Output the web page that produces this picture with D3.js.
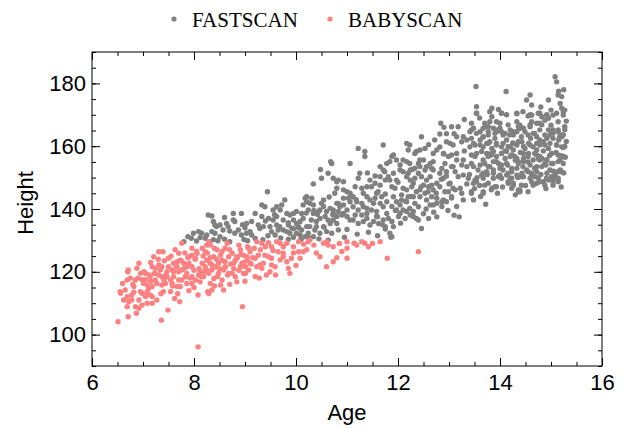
<!DOCTYPE html>
<html><head><meta charset="utf-8">
<script src="https://cdn.jsdelivr.net/npm/d3@7"></script>
<style>html,body{margin:0;padding:0;background:#fff;}svg{display:block;}</style>
</head><body><svg id="c" width="624" height="429"></svg>
<script>
const seriesNames = ["FASTSCAN", "BABYSCAN"];
const xTicks = [6, 8, 10, 12, 14, 16];
const yTicks = [100, 120, 140, 160, 180];

const fastscan = [
[9.44,145.5],[10.34,148.0],[10.80,148.7],[9.78,142.9],[9.72,141.3],[9.33,141.3],[9.39,140.7],[9.62,140.7],[9.55,139.7],[8.28,138.1],[8.35,137.8],[8.77,138.6],[8.93,138.6],[8.77,136.5],[8.80,136.0],[8.64,135.4],[8.67,134.4],[8.51,134.9],[8.44,134.4],[8.41,134.9],[8.38,136.0],[7.99,132.3],[8.09,132.8],[8.15,132.3],[8.25,131.7],[8.35,132.8],[8.41,132.3],[7.95,130.7],[8.22,130.7],[8.38,130.2],[8.51,131.2],[8.57,133.3],[8.80,132.3],[8.87,133.3],[8.93,131.7],[9.03,132.3],[9.10,132.8],[9.13,131.7],[9.26,134.9],[9.29,133.8],[9.36,134.4],[9.33,137.6],[9.46,137.0],[9.49,134.4],[9.55,136.5],[9.62,134.9],[9.65,133.3],[9.68,134.4],[9.75,133.3],[9.82,132.8],[9.88,132.3],[9.52,132.8],[9.59,131.7],[9.88,138.1],[9.95,138.6],[10.01,139.2],[10.01,135.4],[10.08,136.0],[10.14,137.0],[10.01,132.3],[10.08,131.7],[10.18,131.2],[10.14,141.3],[10.21,142.3],[10.27,141.8],[10.18,143.4],[10.21,143.9],[10.34,141.3],[10.30,136.5],[10.40,136.0],[10.47,137.0],[10.27,134.4],[10.37,133.3],[10.34,131.2],[10.50,141.8],[10.54,142.9],[10.47,139.7],[10.60,139.2],[10.67,140.2],[10.57,137.6],[10.67,135.4],[10.73,136.5],[10.60,132.8],[10.70,132.3],[10.76,145.0],[10.80,146.6],[10.83,139.2],[10.83,133.3],[10.63,130.1],
[7.80,129.6],[7.88,131.2],[8.05,129.8],[8.12,130.9],[8.30,129.4],[8.47,129.9],[8.60,130.4],[8.70,129.6],[8.98,130.3],[9.05,129.9],[9.20,130.6],[9.35,130.2],[9.45,131.5],[9.70,130.8],[9.85,130.4],[9.95,131.0],[10.10,130.4],[10.25,130.8],[10.45,130.5],
[9.03,135.4],[9.13,136.0],[9.20,138.6],[8.60,137.3],[8.95,135.0],[9.00,134.0],[8.70,133.0],[9.40,136.2],[9.58,138.2],[9.85,135.6],[9.92,133.9],[10.05,134.0],[10.20,138.7],[10.35,139.5],[10.42,138.3],[10.55,134.2],[10.65,143.8],[10.72,138.2],
[9.62,137.6],[9.75,136.5],[9.85,134.9],[9.95,133.8],[10.05,134.4],[10.11,133.3],[10.21,134.4],[10.24,132.3],[10.40,134.4],[10.47,132.3],[10.54,134.4],[10.63,136.5],[10.73,138.6],[10.80,135.4],[10.83,141.8],[10.54,140.8],[10.44,139.2],[10.34,138.6],[10.31,143.4],[10.24,139.7],[10.11,138.6],[9.95,136.5],[9.82,138.6],[9.69,139.7],
[10.50,149.8],[10.48,152.6],[10.68,155.1],[10.70,154.5],[10.63,151.4],[10.73,149.8],[10.83,149.2],[10.93,148.7],[11.06,154.5],[11.22,159.3],[11.35,158.3],[11.35,156.7],[11.25,151.4],[11.22,149.8],[11.16,147.1],[11.29,146.6],[11.32,145.0],[11.45,149.2],[11.48,147.1],[11.39,143.9],[11.45,142.9],[11.52,141.8],[11.32,140.7],[11.22,139.7],[11.12,140.7],[11.06,142.3],[10.93,141.3],[11.00,139.7],[10.93,138.6],[10.86,140.7],[10.90,138.1],[11.29,138.1],[11.39,137.0],[11.48,139.7],[11.58,139.2],[11.12,136.5],[11.22,135.4],[11.32,136.0],[11.45,134.9],[11.52,136.0],[11.65,141.8],[11.71,140.7],[11.68,143.9],[11.61,145.5],[11.65,147.6],[11.65,153.5],[11.71,152.4],[11.74,151.9],[11.78,154.5],[11.84,155.1],[11.71,160.4],[11.88,156.7],[11.91,157.2],[11.81,150.3],[11.84,149.2],[11.88,147.1],[11.94,146.6],[11.91,143.9],[11.97,142.3],[12.04,141.3],[11.78,138.6],[11.81,137.0],[11.88,136.0],[11.91,134.4],[11.84,132.3],[11.88,131.2],[12.04,138.6],[12.10,139.7],[12.17,139.2],[12.23,140.2],[12.17,160.9],[12.23,160.4],[12.20,158.8],[12.33,157.7],[12.36,158.3],[12.43,158.8],[12.10,155.6],[12.17,155.1],[12.23,154.5],[12.04,152.4],[12.10,151.9],[12.20,151.4],[12.24,149.2],[12.30,148.2],[12.33,149.8],[12.40,154.5],[12.43,153.5],[12.50,155.6],[12.40,151.4],[12.46,150.3],[12.53,152.4],[12.10,146.6],[12.17,146.1],[12.27,147.1],[12.07,144.5],[12.20,143.9],[12.36,145.5],[12.43,143.9],[12.53,145.0],[12.33,141.8],[12.40,140.7],[12.30,137.6],[12.36,137.0],[12.40,136.5],[12.46,133.8],[12.56,142.9],[12.63,141.3],[12.59,145.5],[12.66,147.6],[12.56,149.2],[12.63,150.3],[12.63,154.5],[12.66,152.9],[12.69,155.1],[12.69,157.7],[12.76,158.8],[12.82,159.8],[12.72,162.0],[12.82,163.9],[12.46,163.0],[12.53,159.3],[12.82,151.4],[12.86,152.9],[12.92,154.5],[12.76,148.2],[12.82,147.1],[12.92,145.5],[12.95,161.4],[13.02,160.9],[13.08,160.4],[12.99,156.7],[13.05,157.2],[13.15,155.6],[13.05,153.5],[13.12,151.9],[13.18,150.3],[12.76,143.4],[12.86,142.3],[12.99,145.5],[13.08,146.6],[13.15,140.8],[12.69,141.3],[12.89,142.9],
[11.00,145.5],[11.10,144.0],[11.18,143.0],[11.40,151.5],[11.55,150.5],[11.58,145.0],[11.60,137.5],[11.70,135.0],[11.75,144.8],[11.95,139.5],[12.00,148.5],[12.05,135.5],[12.15,142.5],[12.25,144.0],[12.28,152.6],[12.45,147.0],[12.50,138.5],[12.55,140.0],[12.60,137.0],[12.70,139.0],[12.75,145.0],[12.85,149.5],[12.90,157.5],[12.95,150.5],[13.00,148.0],[13.05,143.5],[13.10,138.0],[13.20,137.5],[12.98,139.5],[11.60,131.5],[11.20,132.0],[11.00,133.5],[10.95,131.0],[11.42,132.6],[11.75,133.6],[11.86,131.0],[12.76,137.5],
[10.93,146.1],[11.06,145.0],[11.12,143.9],[11.03,143.4],[11.19,142.3],[11.29,141.8],[11.39,140.2],[11.00,137.6],[11.06,136.5],[11.16,138.1],[11.39,138.6],[11.58,137.6],[11.62,135.4],[11.71,136.5],[11.75,134.4],[11.55,143.4],[11.78,142.3],[11.88,140.8],[11.97,139.7],[12.01,137.6],[12.14,137.0],[12.24,138.1],[12.30,139.2],[12.07,142.9],[12.17,142.3],[12.30,143.9],[12.43,146.1],[12.50,147.6],[12.60,147.1],[12.69,146.1],[12.66,143.9],[12.76,141.8],[12.86,140.8],[12.95,142.3],[13.05,143.9],[13.12,146.1],[13.02,148.2],[12.89,149.8],[12.95,151.9],[13.08,153.5],[13.15,157.7],[12.89,157.7],[12.69,152.4],[12.56,153.5],[12.43,155.6],[12.33,153.0],[12.24,152.4],[12.17,150.3],[11.97,149.2],[11.91,151.4],[12.04,154.0],[11.97,155.6],[11.75,149.2],[11.65,150.3],[11.55,148.2],[11.39,147.1],[10.93,143.4],[10.80,141.8],[10.73,139.7],[10.80,137.6],
[15.08,182.1],[15.11,180.5],[13.53,179.0],[14.12,177.4],[14.59,176.3],[14.52,174.7],[15.14,176.3],[15.21,175.8],[14.95,174.7],[14.62,173.1],[14.62,169.9],[15.18,173.6],[15.21,172.1],[13.54,172.6],[13.54,170.5],[13.84,172.1],[13.97,171.7],[14.03,170.5],[14.13,170.0],[14.33,170.5],[14.59,170.0],[14.75,170.5],[14.82,169.4],[14.92,170.0],[15.27,171.5],[15.24,169.9],[15.11,170.5],[15.14,167.8],[13.84,169.4],[13.80,167.8],[13.44,167.3],[13.48,165.7],[13.70,167.3],[13.74,166.2],[13.93,167.8],[14.00,167.3],[14.33,167.8],[14.39,166.7],[14.62,167.8],[14.59,166.2],[14.78,167.3],[14.88,168.3],[14.95,168.9],[15.00,166.7],[15.04,165.2],[15.27,166.2],[15.24,163.6],[12.84,167.3],[13.05,166.2],[13.18,166.2],[13.41,164.6],[13.44,162.5],[13.61,164.6],[13.67,163.0],[13.77,163.6],[13.93,164.6],[14.00,165.7],[14.10,164.1],[14.20,165.2],[14.26,163.6],[14.39,165.7],[14.49,164.6],[14.65,164.1],[14.72,163.0],[14.78,162.0],[14.92,162.5],[14.98,163.6],[15.04,162.5],[15.14,164.6],[15.21,163.0],[13.28,163.0],[13.35,162.0],[13.25,161.4],[13.41,159.8],[13.51,160.4],[13.61,162.0],[13.67,159.8],[13.77,160.9],[13.84,159.3],[13.93,160.9],[14.03,159.8],[14.13,162.0],[14.20,159.8],[14.26,158.8],[14.33,160.4],[14.43,161.4],[14.49,159.3],[14.56,160.9],[14.65,159.8],[14.72,158.8],[14.78,160.4],[14.88,160.4],[14.95,159.3],[15.01,157.7],[15.11,160.4],[15.21,159.8],[15.24,159.6],[13.44,157.2],[13.54,157.7],[13.67,155.6],[13.77,156.7],[13.87,158.3],[13.93,155.1],[14.03,157.7],[14.10,156.1],[14.20,156.7],[14.29,156.7],[14.36,155.1],[14.46,156.1],[14.56,157.7],[14.65,155.6],[14.72,157.2],[14.82,156.1],[14.92,155.6],[15.01,154.5],[15.18,155.6],[15.24,154.5],[13.28,155.6],[13.35,153.5],[13.25,154.0],[13.48,153.5],[13.57,152.4],[13.67,151.4],[13.77,153.5],[13.87,152.4],[13.97,154.5],[14.06,152.4],[14.13,150.8],[14.23,151.9],[14.33,153.0],[14.43,151.4],[14.52,152.4],[14.62,150.8],[14.72,151.9],[14.82,153.5],[14.92,151.4],[14.98,152.4],[15.08,150.8],[15.18,152.4],[15.14,149.8],[13.28,150.8],[13.38,149.8],[13.48,148.2],[13.67,149.8],[13.77,148.2],[13.87,149.8],[13.97,150.3],[14.03,149.8],[14.20,149.8],[14.26,148.2],[14.23,146.6],[14.16,148.2],[14.36,145.5],[14.39,146.0],[14.46,150.3],[14.59,149.8],[14.69,150.3],[14.78,148.7],[14.95,149.2],[15.04,149.8],[15.14,149.2],[14.85,148.7],[14.65,147.6],[14.72,148.2],[15.04,147.6],[13.44,145.0],[13.67,145.0],[13.48,142.9],[13.84,146.6],[13.90,147.1],[13.25,145.0],[13.22,146.6],[13.28,142.9],
[13.30,158.5],[13.40,151.0],[13.55,150.0],[13.60,147.5],[13.75,151.0],[13.80,157.5],[13.90,162.5],[14.00,153.0],[14.05,147.0],[14.10,158.5],[14.15,154.0],[14.25,161.0],[14.30,155.5],[14.35,150.0],[14.40,158.0],[14.45,153.5],[14.50,147.5],[14.55,155.0],[14.60,162.5],[14.68,153.0],[14.75,156.0],[14.80,151.0],[14.85,158.5],[14.90,154.0],[14.97,157.0],[15.05,152.0],[15.10,158.0],[15.15,162.0],[15.20,157.0],[15.25,151.5],[15.28,156.5],[15.30,161.5],[13.35,148.0],[13.50,146.5],[13.62,144.0],[13.72,141.5],[13.95,145.0],[14.30,144.5],[14.55,145.5],[14.90,146.5],[15.20,147.0],[13.10,164.0],[13.30,168.5],[13.60,169.0],[14.45,171.0],[14.80,172.5],[15.00,171.5],[15.25,178.0],[15.30,168.0],[15.15,177.5],[12.95,164.0],[13.15,163.0],[12.60,160.5],[12.90,166.0],
[13.54,170.5],[13.80,171.0],[14.03,170.5],[14.33,170.3],[14.55,169.6],[14.62,169.9],[14.78,170.5],[14.91,169.9],[15.04,169.9],[15.24,171.0],
[13.44,165.2],[13.67,165.7],[13.77,166.2],[13.87,165.7],[13.93,165.2],[14.03,164.6],[14.16,166.8],[14.26,164.6],[14.36,166.2],[14.46,165.7],[14.59,166.8],[14.72,167.3],[14.82,166.8],[14.95,165.2],[15.01,164.6],[15.14,165.2],[15.27,165.2],
[13.54,164.1],[13.67,162.9],[13.77,164.6],[13.90,164.1],[14.06,163.6],[14.19,163.6],[14.33,164.6],[14.42,163.0],[14.55,163.6],[14.68,164.1],[14.78,165.2],[14.88,163.6],[15.04,164.1],[15.17,163.0],[15.21,163.6],
[13.48,160.9],[13.61,160.4],[13.74,160.9],[13.80,161.4],[13.93,160.4],[14.06,160.9],[14.16,159.9],[14.26,160.9],[14.36,161.4],[14.46,159.9],[14.59,160.4],[14.72,160.9],[14.85,161.4],[14.98,160.9],[15.11,160.4],[15.27,159.9],
[13.51,156.7],[13.64,158.3],[13.74,157.7],[13.83,157.2],[13.93,156.7],[14.03,157.7],[14.13,158.3],[14.23,157.2],[14.33,156.1],[14.46,157.7],[14.55,156.7],[14.68,157.7],[14.78,156.7],[14.91,155.6],[15.01,157.7],[15.14,157.2],[15.24,156.7],
[13.44,154.5],[13.61,154.0],[13.70,154.5],[13.80,153.5],[13.87,155.1],[14.03,154.0],[14.13,154.5],[14.23,152.9],[14.36,154.5],[14.46,155.1],[14.59,154.0],[14.72,153.5],[14.78,155.6],[14.88,154.5],[15.04,154.5],[15.14,155.1],
[13.51,149.2],[13.64,150.8],[13.74,151.9],[13.87,151.4],[14.00,150.8],[14.16,151.4],[14.23,149.8],[14.33,150.8],[14.42,150.3],[14.55,151.9],[14.62,151.4],[14.75,149.8],[14.91,149.8],[15.01,150.3],[15.14,151.9],[15.21,151.9],
[13.54,148.7],[13.70,147.6],[13.83,146.1],[13.93,147.1],[14.16,148.7],[14.26,147.6],[14.42,147.6],[14.62,148.7],[14.88,147.6],[15.04,148.7],[15.14,148.7],[13.44,145.5],[13.67,145.5],[14.36,146.1],[14.39,145.5]
];

const babyscan = [
[6.51,104.1],[6.71,105.7],[6.87,106.8],[7.36,104.6],[7.49,107.8],[8.08,96.1],[8.95,108.9],[6.60,116.3],[6.55,113.7],[6.56,113.2],[6.65,114.2],[6.69,112.1],[6.69,108.9],[6.72,110.5],[6.78,111.0],[6.85,108.9],[6.92,108.4],[6.92,111.0],[6.98,109.4],[7.08,110.0],[7.18,110.0],[7.18,112.1],[7.27,111.0],[6.71,120.6],[6.70,120.0],[6.92,122.7],[6.88,121.1],[6.95,119.5],[6.98,117.5],[7.01,116.3],[7.05,117.5],[7.08,115.8],[7.11,114.7],[6.95,113.7],[6.98,113.1],[7.08,113.7],[7.18,115.3],[7.21,124.8],[7.31,126.4],[7.39,126.4],[7.18,121.6],[7.24,121.1],[7.31,122.2],[7.37,121.6],[7.31,119.0],[7.37,118.4],[7.24,117.4],[7.27,116.3],[7.37,115.8],[7.44,116.3],[7.54,113.7],[7.40,113.7],[7.54,117.4],[7.60,118.4],[7.50,121.6],[7.60,122.7],[7.67,123.2],[7.70,125.9],[7.76,129.1],[7.70,120.0],[7.76,120.6],[7.70,117.4],[7.73,115.3],[7.83,118.4],[7.86,119.5],[7.90,122.7],[7.96,121.6],[7.96,127.5],[7.86,116.3],[7.96,116.3],[8.03,117.4],[8.08,112.6],[8.09,119.0],[8.12,116.8],[8.16,122.7],[8.22,121.6],[8.25,123.7],[8.29,129.6],[8.29,119.5],[8.35,120.6],[8.39,117.9],[8.29,113.1],[8.32,116.3],[8.42,121.6],[8.48,122.7],[8.52,125.3],[8.48,119.5],[8.55,117.4],[8.58,120.6],[8.61,123.2],[8.65,129.1],[8.68,124.8],[8.75,125.9],[8.81,123.7],[8.75,119.5],[8.81,118.4],[8.84,116.8],[8.88,128.5],[8.91,127.0],[8.94,122.7],[9.01,121.6],[9.04,123.7],[9.01,119.5],[9.07,120.6],[8.97,125.3],[9.10,126.4],[8.58,114.2],[8.52,115.8],[8.27,113.7],[8.35,114.2],[7.96,125.3],[8.16,127.5],[8.25,128.5],[7.63,127.0],[7.47,120.0],[7.57,120.6],[7.50,124.3],
[6.80,116.0],[6.90,118.0],[6.82,113.5],[7.02,120.0],[7.12,119.0],[7.15,123.0],[7.22,119.5],[7.30,124.0],[7.42,123.5],[7.45,119.0],[7.55,125.0],[7.58,115.5],[7.65,121.5],[7.68,113.0],[7.75,123.5],[7.80,121.0],[7.82,126.0],[7.88,124.5],[7.92,118.0],[8.00,120.5],[8.02,124.0],[8.05,126.5],[8.10,121.0],[8.14,118.5],[8.18,125.0],[8.20,120.0],[8.26,126.0],[8.32,124.5],[8.36,122.0],[8.40,127.5],[8.44,124.0],[8.46,118.5],[8.50,121.0],[8.55,126.5],[8.62,121.5],[8.66,119.0],[8.70,127.0],[8.72,122.5],[8.78,121.0],[8.85,124.5],[8.88,120.5],[8.92,125.5],[8.98,123.0],[9.05,128.0],[9.12,122.5],[9.15,124.5],[9.18,127.5],[6.62,111.0],[6.75,118.0],[7.05,112.5],[7.15,117.0],[7.35,113.0],[7.62,111.5],[7.72,110.5],[7.90,114.0],[8.00,115.0],[8.40,115.5],[9.00,117.0],[9.20,118.5],[8.70,116.0],
[7.05,119.5],[7.14,118.4],[7.24,119.5],[7.34,120.6],[7.41,117.4],[7.47,118.4],[7.60,120.0],[7.67,121.6],[7.73,123.7],[7.80,122.7],[7.86,121.6],[7.90,124.8],[8.03,124.3],[8.06,125.9],[8.12,120.0],[8.19,118.4],[8.25,120.6],[8.32,122.7],[8.39,124.8],[8.45,127.0],[8.55,123.7],[8.61,121.6],[8.68,119.5],[8.78,122.7],[8.84,124.8],[8.91,121.6],[8.97,119.5],[9.04,124.8],[9.07,127.5],[9.10,122.7],[8.61,127.5],[8.22,126.4],[8.32,128.5],[7.96,118.4],[7.76,117.4],[7.67,115.3],[7.57,116.3],[7.14,112.6],[7.05,112.1],[6.78,112.6],[6.82,115.3],[6.69,117.4],[6.85,117.4],
[9.23,129.6],[9.33,129.1],[9.46,129.3],[9.52,128.0],[9.62,129.6],[9.69,129.1],[9.75,128.0],[9.82,129.1],[9.65,126.4],[9.75,125.9],[9.95,128.0],[10.05,129.6],[10.24,129.6],[10.27,130.1],[10.05,126.4],[10.21,127.0],[10.47,124.8],[10.54,129.1],[10.60,129.6],[10.63,128.5],[10.73,128.0],[10.73,123.2],[10.60,121.6],[9.88,119.5],[9.49,120.0],[9.42,119.0],[9.36,122.7],[9.29,122.2],[9.46,124.8],[9.52,124.3],[9.39,125.3],[9.20,124.3],[9.26,125.3],[9.23,121.6],[9.33,121.1],[9.52,122.2],[9.59,121.6],[9.69,123.8],[9.75,124.8],[9.82,123.2],[9.91,124.3],[10.08,124.3],[10.14,126.4],[9.85,121.1],
[9.30,127.0],[9.55,126.8],[9.40,128.0],[9.95,126.0],[10.35,128.5],[10.40,126.0],[9.60,119.0],[10.00,122.0],[10.15,128.8],[9.28,118.0],
[11.00,129.6],[11.00,127.5],[11.14,129.1],[11.19,128.5],[11.29,129.6],[11.35,129.1],[11.42,128.0],[11.65,129.6],[11.00,124.3],[11.79,124.3],[12.40,126.4],
[10.85,129.0],[10.90,126.5],[11.50,129.0],[10.80,124.5]
];

const colors = ["#808080", "#ff8080"];

const svg = d3.select("#c");
const L = 92, R = 602, T = 52, B = 366;
const x = d3.scaleLinear().domain([6, 16]).range([L, R]);
const y = d3.scaleLinear().domain([90, 190]).range([B, T]);
const sans = "'Liberation Sans', Arial, Helvetica, sans-serif";
const serif = "'Liberation Serif', 'Times New Roman', serif";

// points
[fastscan, babyscan].forEach((data, i) => {
  svg.append("g").selectAll("circle").data(data).join("circle")
    .attr("cx", d => x(d[0])).attr("cy", d => y(d[1])).attr("r", 2.7)
    .attr("fill", colors[i]);
});

const xMinor = d3.range(6, 16.001, 0.5);
const yMinor = d3.range(90, 190.001, 5);

function styleAxis(g, showLabels) {
  g.select(".domain").remove();
  g.selectAll("line").attr("stroke", "#000").attr("stroke-width", 1);
  if (!showLabels) g.selectAll("text").remove();
  else g.selectAll("text").attr("font-family", sans).attr("font-size", 22).attr("fill", "#000");
}

// minor ticks
svg.append("g").attr("transform", `translate(0,${B})`).call(d3.axisBottom(x).tickValues(xMinor).tickSize(-4).tickSizeOuter(0)).call(g => styleAxis(g, false));
svg.append("g").attr("transform", `translate(0,${T})`).call(d3.axisTop(x).tickValues(xMinor).tickSize(-4).tickSizeOuter(0)).call(g => styleAxis(g, false));
svg.append("g").attr("transform", `translate(${L},0)`).call(d3.axisLeft(y).tickValues(yMinor).tickSize(-4).tickSizeOuter(0)).call(g => styleAxis(g, false));
svg.append("g").attr("transform", `translate(${R},0)`).call(d3.axisRight(y).tickValues(yMinor).tickSize(-4).tickSizeOuter(0)).call(g => styleAxis(g, false));
// major ticks
svg.append("g").attr("transform", `translate(0,${B})`).call(d3.axisBottom(x).tickValues(xTicks).tickSize(-8).tickSizeOuter(0).tickPadding(8).tickFormat(d3.format("d"))).call(g => styleAxis(g, true));
svg.append("g").attr("transform", `translate(0,${T})`).call(d3.axisTop(x).tickValues(xTicks).tickSize(-8).tickSizeOuter(0)).call(g => styleAxis(g, false));
svg.append("g").attr("transform", `translate(${L},0)`).call(d3.axisLeft(y).tickValues(yTicks).tickSize(-8).tickSizeOuter(0).tickPadding(6).tickFormat(d3.format("d"))).call(g => styleAxis(g, true));
svg.append("g").attr("transform", `translate(${R},0)`).call(d3.axisRight(y).tickValues(yTicks).tickSize(-8).tickSizeOuter(0)).call(g => styleAxis(g, false));

// frame
svg.append("rect").attr("x", L).attr("y", T).attr("width", R - L).attr("height", B - T)
  .attr("fill", "none").attr("stroke", "#000").attr("stroke-width", 1);

// axis titles
svg.append("text").attr("x", (L + R) / 2).attr("y", 420).attr("text-anchor", "middle")
  .attr("font-family", sans).attr("font-size", 22).attr("fill", "#000").text("Age");
svg.append("text").attr("transform", `translate(33,${(T + B) / 2 - 6}) rotate(-90)`).attr("text-anchor", "middle")
  .attr("font-family", sans).attr("font-size", 22).attr("fill", "#000").text("Height");

// legend
const legendX = [174, 330];
seriesNames.forEach((name, i) => {
  svg.append("circle").attr("cx", legendX[i]).attr("cy", 19).attr("r", 2.6).attr("fill", colors[i]);
  svg.append("text").attr("x", legendX[i] + 18).attr("y", 27).attr("font-family", serif)
    .attr("font-size", 21).attr("fill", "#000").text(name);
});
</script></body></html>
